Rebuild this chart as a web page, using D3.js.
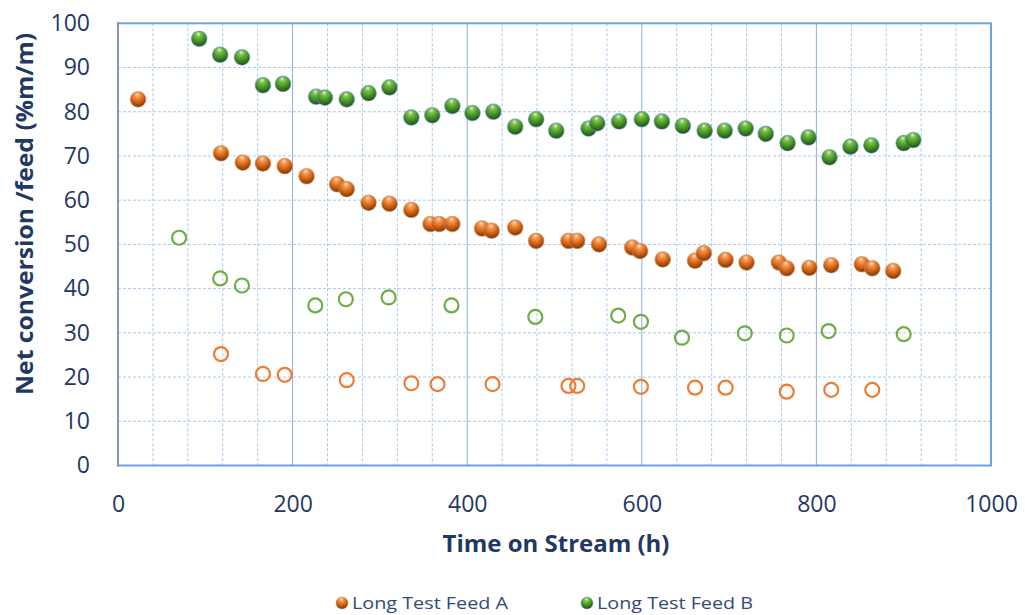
<!DOCTYPE html>
<html>
<head>
<meta charset="utf-8">
<script src="https://cdn.jsdelivr.net/npm/d3@7"></script>
<style>
  body { margin: 0; background: #fff; }
  svg { display: block; font-family: "Open Sans", sans-serif; }
</style>
</head>
<body>
<figure style="margin:0"></figure>
<script>
// long test points (filled spheres)
const feedAHours = [23, 118, 143, 166, 191, 216, 251, 262, 287, 311, 336, 358, 368, 383, 417, 428, 455, 479, 516, 526, 551, 589, 598, 624, 661, 671, 696, 720, 757, 766, 792, 817, 852, 864, 888]
const feedAConv = [82.8, 70.6, 68.5, 68.3, 67.7, 65.4, 63.6, 62.5, 59.4, 59.2, 57.8, 54.6, 54.6, 54.6, 53.6, 53.1, 53.8, 50.8, 50.8, 50.8, 50.0, 49.3, 48.5, 46.6, 46.3, 48.0, 46.5, 45.9, 45.9, 44.6, 44.7, 45.3, 45.5, 44.6, 44.0]

const feedBHours = [93, 117, 142, 166, 189, 227, 237, 262, 287, 311, 336, 360, 383, 406, 430, 455, 479, 502, 539, 549, 574, 600, 623, 647, 672, 695, 719, 742, 767, 791, 815, 839, 863, 900, 911]
const feedBConv = [96.5, 92.9, 92.3, 86.0, 86.3, 83.4, 83.2, 82.8, 84.2, 85.5, 78.7, 79.2, 81.3, 79.7, 80.0, 76.6, 78.3, 75.7, 76.2, 77.4, 77.8, 78.3, 77.8, 76.8, 75.7, 75.7, 76.2, 75.0, 72.9, 74.2, 69.7, 72.1, 72.4, 72.9, 73.6]

// open circles (no legend entry)
const openAHours = [118, 166, 191, 262, 336, 366, 429, 516, 526, 599, 661, 696, 766, 817, 864]
const openAConv = [25.2, 20.7, 20.5, 19.3, 18.6, 18.4, 18.4, 18.0, 18.0, 17.8, 17.6, 17.6, 16.7, 17.1, 17.1]

const openBHours = [70, 117, 142, 226, 261, 310, 382, 478, 573, 599, 646, 718, 766, 814, 900]
const openBConv = [51.5, 42.3, 40.7, 36.2, 37.6, 38.0, 36.2, 33.6, 33.9, 32.5, 28.9, 29.9, 29.4, 30.4, 29.7]

const xTicks = [0, 200, 400, 600, 800, 1000]
const yTicks = [0, 10, 20, 30, 40, 50, 60, 70, 80, 90, 100]
const legendLabels = ['Long Test Feed A', 'Long Test Feed B']

const WIDTH = 1025
const HEIGHT = 615
const TEXT = '#1F3864'

const x = d3.scaleLinear().domain([0, 1000]).range([118, 991])
const y = d3.scaleLinear().domain([0, 100]).range([465.5, 23.3])

const svg = d3.select('figure').append('svg')
  .attr('width', WIDTH)
  .attr('height', HEIGHT)

const defs = svg.append('defs')

function sphere (id, stops) {
  const g = defs.append('radialGradient')
    .attr('id', id)
    .attr('cx', '45%').attr('cy', '30%').attr('r', '70%')
    .attr('fx', '45%').attr('fy', '18%')
  stops.forEach(([o, c]) => g.append('stop').attr('offset', o).attr('stop-color', c))
}
sphere('ballA', [['0%', '#FFE2C4'], ['22%', '#F59A55'], ['55%', '#DA6A1C'], ['85%', '#A04708'], ['100%', '#6E3004']])
sphere('ballB', [['0%', '#E2F5CF'], ['22%', '#7CC24F'], ['55%', '#4C9A28'], ['85%', '#2E6A16'], ['100%', '#1A430B']])

// minor vertical gridlines every 40 h, major every 200 h
const minorX = d3.range(40, 1000, 40).filter(v => v % 200 !== 0)
svg.append('g').selectAll('line')
  .data(minorX)
  .join('line')
  .attr('x1', d => x(d)).attr('x2', d => x(d))
  .attr('y1', y(100)).attr('y2', y(0))
  .attr('stroke', '#A9C8EC')
  .attr('stroke-dasharray', '3,2')

svg.append('g').selectAll('line')
  .data(yTicks.slice(1, -1))
  .join('line')
  .attr('x1', x(0)).attr('x2', x(1000))
  .attr('y1', d => y(d)).attr('y2', d => y(d))
  .attr('stroke', '#A9C8EC')
  .attr('stroke-dasharray', '3,2')

svg.append('g').selectAll('line')
  .data(xTicks.slice(1, -1))
  .join('line')
  .attr('x1', d => x(d)).attr('x2', d => x(d))
  .attr('y1', y(100)).attr('y2', y(0))
  .attr('stroke', '#8FAEE0')

// plot border
svg.append('rect')
  .attr('x', x(0)).attr('y', y(100))
  .attr('width', x(1000) - x(0)).attr('height', y(0) - y(100))
  .attr('fill', 'none')
  .attr('stroke', '#6FA2DA')
  .attr('stroke-width', 2)
svg.append('line')
  .attr('x1', x(0)).attr('x2', x(0))
  .attr('y1', y(100) - 1).attr('y2', y(0) + 1)
  .attr('stroke', '#8497B0')
  .attr('stroke-width', 2)

// axes
const xAxis = svg.append('g')
  .attr('transform', `translate(0,${y(0) + 27})`)
  .call(d3.axisBottom(x).tickValues(xTicks).tickSize(0).tickFormat(d3.format('d')))
xAxis.select('.domain').remove()
xAxis.selectAll('text')
  .attr('fill', TEXT)
  .style('font-size', '23px')
  .style('font-family', '"Open Sans", sans-serif')

const yAxis = svg.append('g')
  .attr('transform', `translate(${x(0) - 28},0)`)
  .call(d3.axisLeft(y).tickValues(yTicks).tickSize(0))
yAxis.select('.domain').remove()
yAxis.selectAll('text')
  .attr('fill', TEXT)
  .attr('x', 0)
  .style('font-size', '23px')
  .style('font-family', '"Open Sans", sans-serif')

svg.append('text')
  .attr('x', 556).attr('y', 552)
  .attr('text-anchor', 'middle')
  .attr('fill', TEXT)
  .attr('font-weight', 'bold')
  .attr('font-size', 24)
  .attr('textLength', 227)
  .attr('lengthAdjust', 'spacingAndGlyphs')
  .text('Time on Stream (h)')

svg.append('text')
  .attr('transform', 'translate(33,214) rotate(-90)')
  .attr('text-anchor', 'middle')
  .attr('fill', TEXT)
  .attr('font-weight', 'bold')
  .attr('font-size', 24)
  .attr('textLength', 362)
  .attr('lengthAdjust', 'spacingAndGlyphs')
  .text('Net conversion /feed (%m/m)')

// markers
const zip = (xs, ys) => xs.map((h, i) => ({ h, v: ys[i] }))

function openSeries (data, color) {
  svg.append('g').selectAll('circle')
    .data(data)
    .join('circle')
    .attr('cx', d => x(d.h)).attr('cy', d => y(d.v))
    .attr('r', 7)
    .attr('fill', 'none')
    .attr('stroke', color)
    .attr('stroke-width', 2.2)
}

function ballSeries (data, grad, edge) {
  svg.append('g').selectAll('circle')
    .data(data)
    .join('circle')
    .attr('cx', d => x(d.h)).attr('cy', d => y(d.v))
    .attr('r', 7.8)
    .attr('fill', `url(#${grad})`)
    .attr('stroke', edge)
    .attr('stroke-opacity', 0.55)
    .attr('stroke-width', 1.2)
}

openSeries(zip(openBHours, openBConv), '#70AD47')
openSeries(zip(openAHours, openAConv), '#ED7D31')
ballSeries(zip(feedAHours, feedAConv), 'ballA', '#C98A5C')
ballSeries(zip(feedBHours, feedBConv), 'ballB', '#5B8FC9')

// legend
const legend = svg.append('g').selectAll('g')
  .data(legendLabels)
  .join('g')
  .attr('transform', (d, i) => `translate(${[342, 587][i]},603)`)
legend.append('circle')
  .attr('r', 6)
  .attr('fill', (d, i) => `url(#${['ballA', 'ballB'][i]})`)
  .attr('stroke', (d, i) => ['#C98A5C', '#5B8FC9'][i])
  .attr('stroke-opacity', 0.5)
legend.append('text')
  .attr('x', 10)
  .attr('dy', '0.36em')
  .attr('fill', '#2F4A7A')
  .attr('font-size', 17)
  .attr('textLength', 156)
  .attr('lengthAdjust', 'spacingAndGlyphs')
  .text(d => d)
</script>
</body>
</html>
